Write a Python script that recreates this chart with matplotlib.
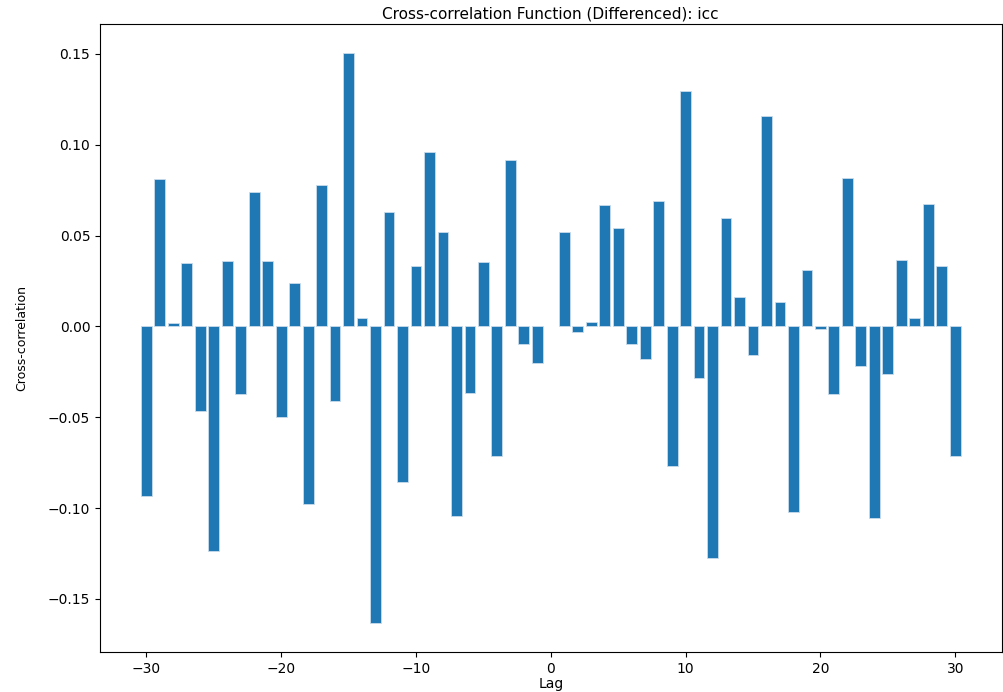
import numpy as np
from matplotlib import pyplot as plt

# lags -30..30 (lag 0 has no bar)
lags = [l for l in range(-30, 31) if l != 0]
ccf_vals = [
    -0.0934, 0.0812, 0.0018, 0.0351, -0.0463, -0.1237, 0.0362, -0.0373, 0.0737, 0.0362,
    -0.0496, 0.0241, -0.0978, 0.0776, -0.0410, 0.1506, 0.0044, -0.1634, 0.0632, -0.0857,
    0.0335, 0.0960, 0.0520, -0.1046, -0.0368, 0.0357, -0.0713, 0.0917, -0.0098, -0.0204,
    0.0517, -0.0030, 0.0022, 0.0669, 0.0540, -0.0098, -0.0182, 0.0689, -0.0770, 0.1294,
    -0.0283, -0.1274, 0.0599, 0.0160, -0.0160, 0.1156, 0.0134, -0.1020, 0.0309, -0.0015,
    -0.0373, 0.0818, -0.0219, -0.1057, -0.0261, 0.0368, 0.0044, 0.0675, 0.0331, -0.0713,
]

fig = plt.figure(figsize=(10.04, 6.92), dpi=100)
ax = fig.add_axes([0.0996, 0.058, 0.898, 0.907])
ax.bar(lags, ccf_vals, width=0.8, color="#1f77b4", edgecolor="#c9dcec", linewidth=0.6)
ax.set_title("Cross-correlation Function (Differenced): icc", fontsize=11, pad=4)
ax.set_xlabel("Lag", fontsize=10, labelpad=1)
ax.set_ylabel("Cross-correlation", fontsize=9, labelpad=14)
ax.set_yticks([-0.15, -0.10, -0.05, 0.00, 0.05, 0.10, 0.15])
ax.set_yticklabels(["\u22120.15", "\u22120.10", "\u22120.05", "0.00", "0.05", "0.10", "0.15"])
ax.tick_params(labelsize=10)

fig.savefig("out.png", dpi=100)
